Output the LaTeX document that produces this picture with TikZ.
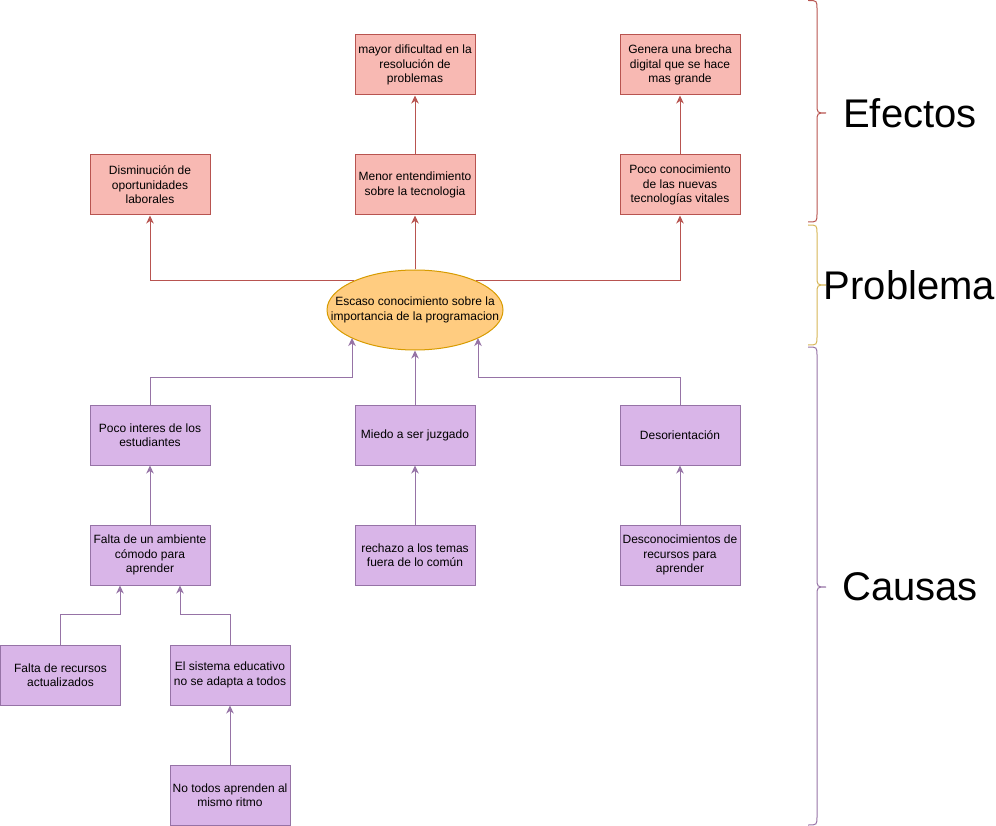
\documentclass[tikz,border=0pt]{standalone}
\usepackage{fontspec}
\setmainfont{Liberation Sans}
\usetikzlibrary{arrows.meta,shapes.geometric}
\definecolor{rfill}{HTML}{F8B9B3}
\definecolor{rdraw}{HTML}{B85450}
\definecolor{pfill}{HTML}{D9B5E8}
\definecolor{pdraw}{HTML}{9673A6}
\definecolor{ofill}{HTML}{FFCC80}
\definecolor{odraw}{HTML}{D79B00}
\definecolor{ydraw}{HTML}{D6B656}
\newcommand\mybrace[4]{\draw[#4,line width=1pt] (808,#1) .. controls (817,#1) .. (817,#1+9) -- (817,#2-9) .. controls (817,#2) .. (826,#2) .. controls (817,#2) .. (817,#2+9) -- (817,#3-9) .. controls (817,#3) .. (808,#3);}
\begin{document}
\begin{tikzpicture}[x=1pt,y=-1pt,
  box/.style={draw, minimum width=120pt, minimum height=60pt, inner sep=0pt, align=center, font=\fontsize{12}{14.4}\selectfont, line width=1pt},
  eff/.style={box, fill=rfill, draw=rdraw},
  cau/.style={box, fill=pfill, draw=pdraw},
  rarr/.style={draw=rdraw, line width=1pt, -{Stealth[length=8pt,width=7.5pt,inset=2.5pt]}},
  parr/.style={draw=pdraw, line width=1pt, -{Stealth[length=8pt,width=7.5pt,inset=2.5pt]}},
  big/.style={font=\fontsize{40}{48}\selectfont, anchor=base, inner sep=0pt}]
\useasboundingbox (0,0) rectangle (996,826);
% effects
\node[eff] (may) at (415,65) {mayor dificultad en la\\resolución de\\problemas};
\node[eff] (gen) at (680,65) {Genera una brecha\\digital que se hace\\mas grande};
\node[eff] (dis) at (150,185) {Disminución de\\oportunidades\\laborales};
\node[eff] (men) at (415,185) {Menor entendimiento\\sobre la tecnologia};
\node[eff] (poc) at (680,185) {Poco conocimiento\\de las nuevas\\tecnologías vitales};
% problem
\node[ellipse, draw=odraw, fill=ofill, line width=1pt, minimum width=176pt, minimum height=80pt, inner sep=0pt] (el) at (415,310) {};
\node[align=center, inner sep=0pt, font=\fontsize{12}{14.4}\selectfont] (elt) at (el.center) {Escaso conocimiento sobre la\\importancia de la programacion};
% causes
\node[cau] (int) at (150,435) {Poco interes de los\\estudiantes};
\node[cau] (mie) at (415,435) {Miedo a ser juzgado};
\node[cau] (des) at (680,435) {Desorientación};
\node[cau] (amb) at (150,555) {Falta de un ambiente\\cómodo para\\aprender};
\node[cau] (rec) at (415,555) {rechazo a los temas\\fuera de lo común};
\node[cau] (dcr) at (680,555) {Desconocimientos de\\recursos para\\aprender};
\node[cau] (fre) at (60.5,675) {Falta de recursos\\actualizados};
\node[cau] (sis) at (230,675) {El sistema educativo\\no se adapta a todos};
\node[cau] (not) at (230,795) {No todos aprenden al\\mismo ritmo};
% coordinates on ellipse
\coordinate (eL) at (354.4,281);
\coordinate (eR) at (475.6,281);
\coordinate (eBL) at (352,338);
\coordinate (eBR) at (478,338);
% red connectors
\draw[rarr] (el.north) -- (men.south);
\draw[rarr] (men) -- (may);
\draw[rarr] (poc) -- (gen);
\draw[rarr] (eL) -| (dis.south);
\draw[rarr] (eR) -| (poc.south);
% purple connectors
\draw[parr] (int.north) -- ++(0,-27) -| (eBL);
\draw[parr] (mie.north) -- (el.south);
\draw[parr] (des.north) -- ++(0,-27) -| (eBR);
\draw[parr] (amb) -- (int);
\draw[parr] (rec) -- (mie);
\draw[parr] (dcr) -- (des);
\draw[parr] (fre.north) -- ++(0,-30) -| ([xshift=-30pt]amb.south);
\draw[parr] (sis.north) -- ++(0,-30) -| ([xshift=30pt]amb.south);
\draw[parr] (not) -- (sis);
% braces
\mybrace{0.5}{113}{222}{rdraw}
\mybrace{225}{285}{345}{ydraw}
\mybrace{347}{587}{825}{pdraw}
% labels
\node[big] (lef) at (910,128) {Efectos};
\node[big] (lpr) at (909.5,300) {Problema};
\node[big] (lca) at (910,600.5) {Causas};
\end{tikzpicture}
\end{document}
